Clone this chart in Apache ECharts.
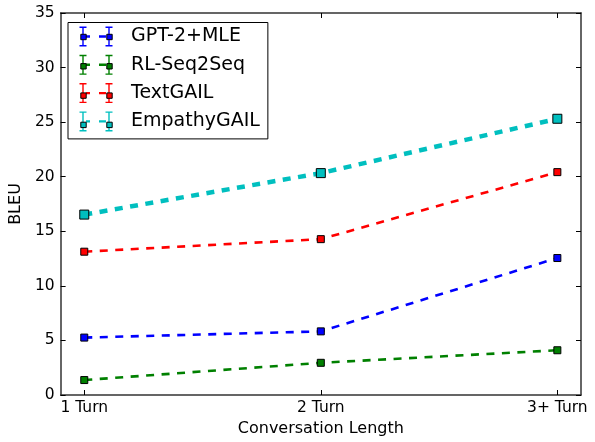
<!DOCTYPE html>
<html>
<head>
<meta charset="utf-8">
<script src="https://cdn.jsdelivr.net/npm/echarts@6/dist/echarts.min.js"></script>
<style>html,body{margin:0;padding:0;background:#fff;}#c{width:595px;height:442px;}</style>
</head>
<body>
<div id="c"></div>
<script>
const categories = ['1 Turn', '2 Turn', '3+ Turn'];
const seriesNames = ['GPT-2+MLE', 'RL-Seq2Seq', 'TextGAIL', 'EmpathyGAIL'];
const gpt2Mle = [5.26, 5.83, 12.55];
const rlSeq2Seq = [1.37, 2.95, 4.10];
const textGail = [13.13, 14.28, 20.42];
const empathyGail = [16.53, 20.33, 25.31];
const yTicks = [0, 5, 10, 15, 20, 25, 30, 35];

const colors = ['#0000ff', '#008000', '#ff0000', '#00bfbf'];
const allValues = [gpt2Mle, rlSeq2Seq, textGail, empathyGail];
const lineWidths = [2.6, 2.6, 2.6, 4.5];
const markerSizes = [7, 7, 7, 9];
const FONT = 'DejaVu Sans';
const catIdx = categories.map((c, i) => i);

const barsPath = 'path://M0 0 M48 20 ' +
  'M4.3 0.5 H5.7 V19.5 H4.3 Z M1.5 0 H8.5 V1.4 H1.5 Z M1.5 18.6 H8.5 V20 H1.5 Z ' +
  'M30.3 0.5 H31.7 V19.5 H30.3 Z M27.5 0 H34.5 V1.4 H27.5 Z M27.5 18.6 H34.5 V20 H27.5 Z ' +
  'M8 8.8 H12 V11.2 H8 Z M21 8.8 H28 V11.2 H21 Z';
const squaresPath = 'path://M0 0 M48 20 M2.3 7.3 H7.7 V12.7 H2.3 Z M28.3 7.3 H33.7 V12.7 H28.3 Z';

const legendBase = {
  orient: 'vertical',
  left: 68,
  top: 22.5,
  padding: [4, 8, 7.5, 10],
  itemWidth: 48,
  itemHeight: 20,
  itemGap: 8.3,
  symbolKeepAspect: true,
  selectedMode: false,
  data: seriesNames
};

const axisLineStyle = { color: '#333', width: 1.5 };
const tickStyle = { color: '#000', width: 1 };

const option = {
  animation: false,
  backgroundColor: '#ffffff',
  textStyle: { fontFamily: FONT },
  grid: { left: 60, right: 14, top: 13, bottom: 45 },
  legend: [
    Object.assign({}, legendBase, {
      icon: barsPath,
      backgroundColor: '#ffffff',
      borderColor: '#000000',
      borderWidth: 1,
      itemStyle: { borderWidth: 0 },
      textStyle: { fontFamily: FONT, fontSize: 19, color: '#000000', lineHeight: 20 }
    }),
    Object.assign({}, legendBase, {
      icon: squaresPath,
      itemStyle: { borderColor: '#000000', borderWidth: 1 },
      textStyle: { fontFamily: FONT, fontSize: 19, color: 'rgba(0,0,0,0)', lineHeight: 20 }
    })
  ],
  xAxis: [
    {
      type: 'value', position: 'bottom', min: -0.1, max: 2.1,
      name: 'Conversation Length', nameLocation: 'middle', nameGap: 26,
      nameTextStyle: { fontFamily: FONT, fontSize: 16, color: '#000' },
      axisLine: { show: true, onZero: false, lineStyle: axisLineStyle },
      axisTick: { show: true, inside: true, length: 5, customValues: catIdx, lineStyle: tickStyle },
      axisLabel: { customValues: catIdx, margin: 5, fontFamily: FONT, fontSize: 15.5, color: '#000',
        formatter: v => categories[Math.round(v)] },
      splitLine: { show: false }
    },
    {
      type: 'value', position: 'top', min: -0.1, max: 2.1,
      axisLine: { show: true, onZero: false, lineStyle: axisLineStyle },
      axisTick: { show: true, inside: true, length: 5, customValues: catIdx, lineStyle: tickStyle },
      axisLabel: { show: false },
      splitLine: { show: false }
    }
  ],
  yAxis: [
    {
      type: 'value', position: 'left', min: 0, max: 35, interval: 5,
      name: 'BLEU', nameLocation: 'middle', nameGap: 29,
      nameTextStyle: { fontFamily: FONT, fontSize: 16, color: '#000' },
      axisLine: { show: true, onZero: false, lineStyle: axisLineStyle },
      axisTick: { show: true, inside: true, length: 5, lineStyle: tickStyle },
      axisLabel: { margin: 6, fontFamily: FONT, fontSize: 15.5, color: '#000',
        formatter: v => (yTicks.indexOf(v) >= 0 ? String(v) : '') },
      splitLine: { show: false }
    },
    {
      type: 'value', position: 'right', min: 0, max: 35, interval: 5,
      axisLine: { show: true, onZero: false, lineStyle: axisLineStyle },
      axisTick: { show: true, inside: true, length: 5, lineStyle: tickStyle },
      axisLabel: { show: false },
      splitLine: { show: false }
    }
  ],
  series: seriesNames.map((name, k) => ({
    name: name,
    type: 'line',
    xAxisIndex: 0,
    yAxisIndex: 0,
    data: allValues[k].map((v, i) => [catIdx[i], v]),
    symbol: 'rect',
    symbolSize: markerSizes[k],
    itemStyle: { color: colors[k], borderColor: '#000', borderWidth: 1 },
    lineStyle: { color: colors[k], width: lineWidths[k], type: [8, 7.5] },
    emphasis: { disabled: true },
    z: 2 + k
  }))
};

const chart = echarts.init(document.getElementById('c'), null, { renderer: 'canvas' });
chart.setOption(option);
</script>
</body>
</html>
